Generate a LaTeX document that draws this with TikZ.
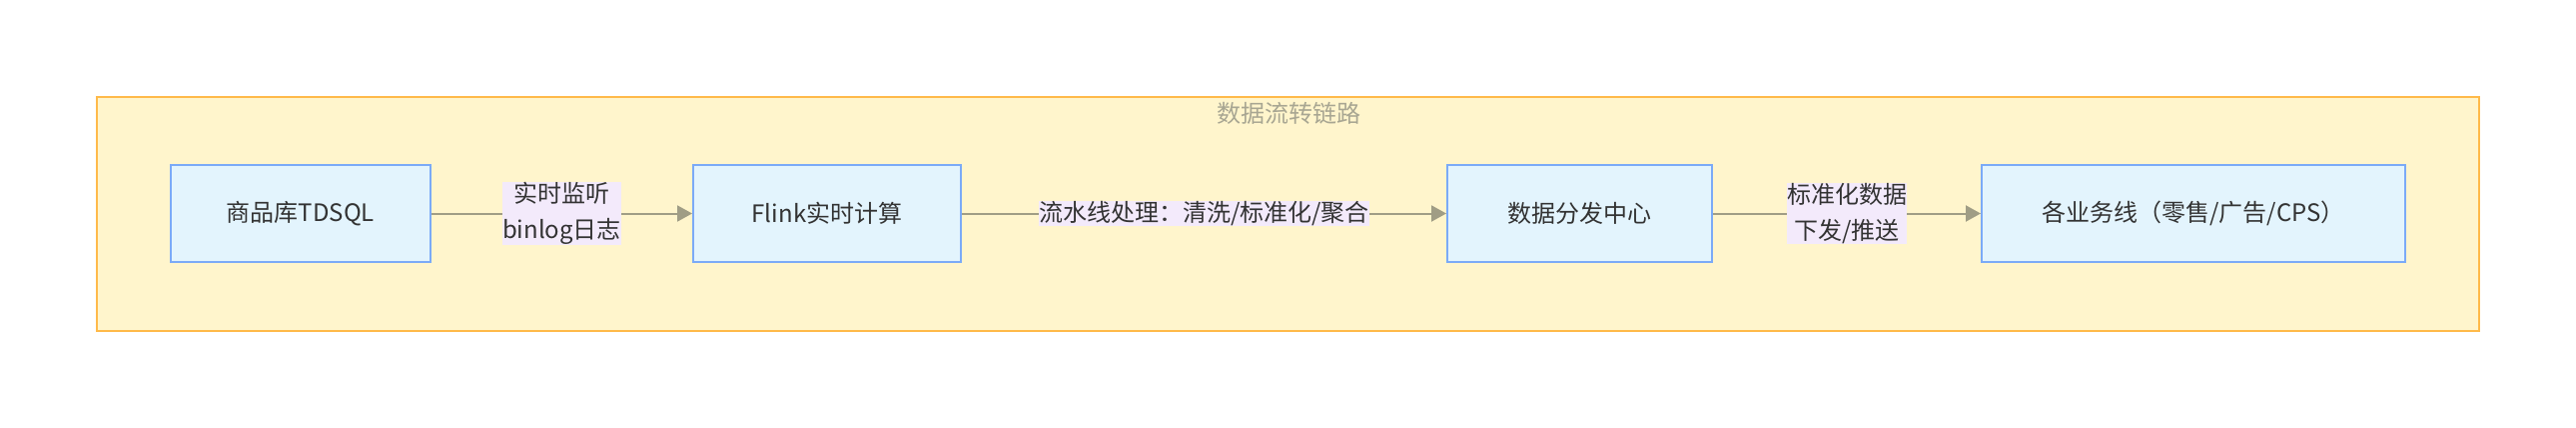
\documentclass[tikz,border=0pt]{standalone}
\usepackage{fontspec}
\setmainfont{Noto Sans CJK SC}
\usepackage{tikz}
\usepackage{xcolor}
\usetikzlibrary{arrows.meta,positioning}
\definecolor{clusterfill}{HTML}{FFF5CC}
\definecolor{clusterline}{HTML}{FFBA4A}
\definecolor{nodefill}{HTML}{E3F4FD}
\definecolor{nodeline}{HTML}{7BAAF7}
\definecolor{flowline}{HTML}{A09D85}
\definecolor{labelfill}{HTML}{F3EAFB}
\definecolor{titlegray}{HTML}{A8A692}
\definecolor{textdark}{HTML}{333333}

\begin{document}
\begin{tikzpicture}[
      x=0.5pt,y=-0.5pt,
      >={Triangle[length=7.5pt,width=8pt]},
      stage/.style={draw=nodeline,line width=1pt,fill=nodefill,minimum height=48.5pt,
        inner sep=0pt,font=\fontsize{12}{18}\selectfont,text=textdark},
      flow/.style={draw=flowline,line width=1pt,->},
      tag/.style={fill=labelfill,inner sep=0pt,align=center,
        font=\fontsize{12}{18}\selectfont,text=textdark}
    ]
    \useasboundingbox (0,0) rectangle (2579,428);
    \draw[clusterline,fill=clusterfill,line width=1pt] (97,97) rectangle (2482,331);
    \node[font=\fontsize{12}{18}\selectfont,text=titlegray] (title) at (1290,113) {数据流转链路};

    \node[stage,minimum width=130pt] (tdsql) at (301,213.5) {商品库TDSQL};
    \node[stage,minimum width=134pt] (flink) at (828,213.5) {Flink实时计算};
    \node[stage,minimum width=132.5pt] (hub) at (1581.5,213.5) {数据分发中心};
    \node[stage,minimum width=212pt] (biz) at (2196,213.5) {各业务线（零售/广告/CPS）};

    \draw[flow] (tdsql) -- node[tag] {实时监听\\binlog日志} (flink);
    \draw[flow] (flink) -- node[tag] {流水线处理：清洗/标准化/聚合} (hub);
    \draw[flow] (hub) -- node[tag] {标准化数据\\下发/推送} (biz);
  \end{tikzpicture}
\end{document}
